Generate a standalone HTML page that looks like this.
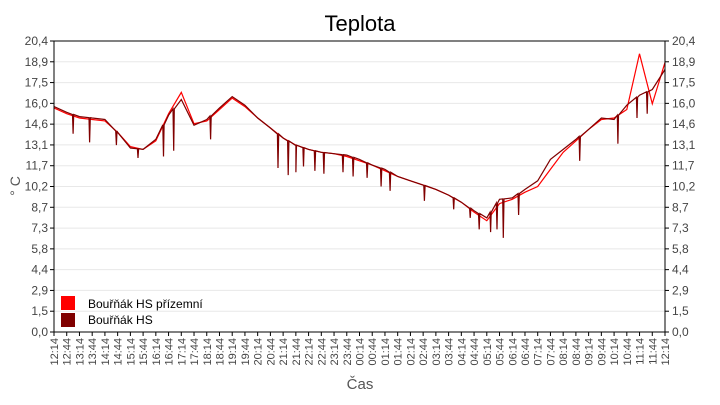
<!DOCTYPE html>
<html><head><meta charset="utf-8"><style>
body{margin:0;background:#fff;font-family:"Liberation Sans",sans-serif}
svg text{font-family:"Liberation Sans",sans-serif}
</style></head><body>
<svg id="c" width="720" height="400" xmlns="http://www.w3.org/2000/svg">
<text x="360" y="31" font-size="22" text-anchor="middle" fill="#000">Teplota</text>
<text x="0" y="0" font-size="14" fill="#555" text-anchor="middle" transform="translate(20,186) rotate(-90)">° C</text>
<text x="360" y="389" font-size="15" fill="#555" text-anchor="middle">Čas</text>
<g id="grid"></g><g id="series"></g><g id="axes"></g>
<g>
<rect x="61" y="296" width="14" height="14" fill="#ff0000"/>
<text x="88" y="308" font-size="12" fill="#000">Bouřňák HS přízemní</text>
<rect x="61" y="313" width="14" height="14" fill="#800000"/>
<text x="88" y="324" font-size="12" fill="#000">Bouřňák HS</text>
</g>
</svg>
<script>
const yTicks=["0,0","1,5","2,9","4,4","5,8","7,3","8,7","10,2","11,7","13,1","14,6","16,0","17,5","18,9","20,4"];
const xLabels=["12:14","12:44","13:14","13:44","14:14","14:44","15:14","15:44","16:14","16:44","17:14","17:44","18:14","18:44","19:14","19:44","20:14","20:44","21:14","21:44","22:14","22:44","23:14","23:44","00:14","00:44","01:14","01:44","02:14","02:44","03:14","03:44","04:14","04:44","05:14","05:44","06:14","06:44","07:14","07:44","08:14","08:44","09:14","09:44","10:14","10:44","11:14","11:44","12:14"];
const hsValues=[15.8,15.4,15.1,15.0,14.9,14.0,12.9,12.8,13.5,15.2,16.3,14.5,14.9,15.7,16.5,15.9,15.0,14.3,13.6,13.1,12.8,12.6,12.5,12.4,12.1,11.7,11.4,10.9,10.6,10.3,10.0,9.6,9.1,8.5,8.0,9.3,9.4,10.0,10.6,12.1,12.8,13.5,14.2,15.0,14.9,15.9,16.6,17.0,18.4];
const prizValues=[15.7,15.3,15.0,14.9,14.8,14.0,13.0,12.8,13.4,15.3,16.8,14.6,14.8,15.6,16.4,15.8,15.0,14.3,13.6,13.1,12.8,12.6,12.5,12.3,12.0,11.7,11.3,10.9,10.6,10.3,10.0,9.6,9.1,8.4,7.8,9.0,9.3,9.8,10.2,11.4,12.6,13.4,14.2,14.9,15.0,15.6,19.5,16.0,18.9];
const dipIdx=[1.5,2.8,4.9,6.6,8.6,9.4,12.3,17.6,18.4,19.0,19.6,20.5,21.2,22.7,23.5,24.6,25.7,26.4,29.1,31.4,32.7,33.4,34.3,34.8,35.3,36.5,41.3,44.3,45.8,46.6];
const dipVal=[13.9,13.3,13.1,12.2,12.3,12.7,13.5,11.5,11.0,11.2,11.6,11.3,11.1,11.2,10.9,10.8,10.2,9.9,9.2,8.6,8.0,7.2,7.0,7.2,6.6,8.2,12.0,13.2,15.0,15.3];
const NS="http://www.w3.org/2000/svg";
const L=54,R=665,T=41,B=332,YMAX=20.4;
const yS=v=>B-v/YMAX*(B-T);
const xS=i=>L+i*(R-L)/(xLabels.length-1);
function mk(t,a,p){const e=document.createElementNS(NS,t);for(const k in a)e.setAttribute(k,a[k]);p.appendChild(e);return e;}
const grid=document.getElementById('grid'),axes=document.getElementById('axes'),ser=document.getElementById('series');
yTicks.forEach((t,i)=>{const v=i*YMAX/(yTicks.length-1),y=yS(v);
 if(i>0){const g=mk('line',{x1:L,x2:R,y1:y,y2:y,stroke:'#e8e8e8'},grid);
 
 }
 mk('line',{x1:L-4,x2:L,y1:y,y2:y,stroke:'#000'},axes);
 mk('line',{x1:R,x2:R+4,y1:y,y2:y,stroke:'#000'},axes);
 const a=mk('text',{x:L-6,y:y+4,'font-size':12,fill:'#444','text-anchor':'end'},axes);a.textContent=t;
 
 
 const b=mk('text',{x:R+7,y:y+4,'font-size':12,fill:'#444'},axes);b.textContent=t;
 
 
});
xLabels.forEach((t,i)=>{const x=xS(i);
 mk('line',{x1:x,x2:x,y1:B,y2:B+4,stroke:'#000'},axes);
 const e=mk('text',{'font-size':11,fill:'#444','text-anchor':'end',transform:`translate(${x+4},${B+6}) rotate(-90)`},axes);e.textContent=t;
 
 
});
mk('rect',{x:L,y:T,width:R-L,height:B-T,fill:'none',stroke:'#000','stroke-width':1},axes);
function path(vals,dips){let pts=vals.map((v,i)=>[i,v]);
 if(dips){dipIdx.forEach((d,k)=>{const i0=Math.floor(d),f=d-i0;const base=vals[i0]+(vals[Math.min(i0+1,vals.length-1)]-vals[i0])*f;pts.push([d-0.05,base],[d,dipVal[k]],[d+0.05,base]);});pts.sort((a,b)=>a[0]-b[0]);}
 return pts.map((p,j)=>(j?'L':'M')+xS(p[0]).toFixed(1)+','+yS(p[1]).toFixed(1)).join('');}
const p1=mk('path',{d:path(prizValues,false),fill:'none',stroke:'#ff0000','stroke-width':1.2},ser);


const p2=mk('path',{d:path(hsValues,true),fill:'none',stroke:'#800000','stroke-width':1.2},ser);


</script>
</body></html>
